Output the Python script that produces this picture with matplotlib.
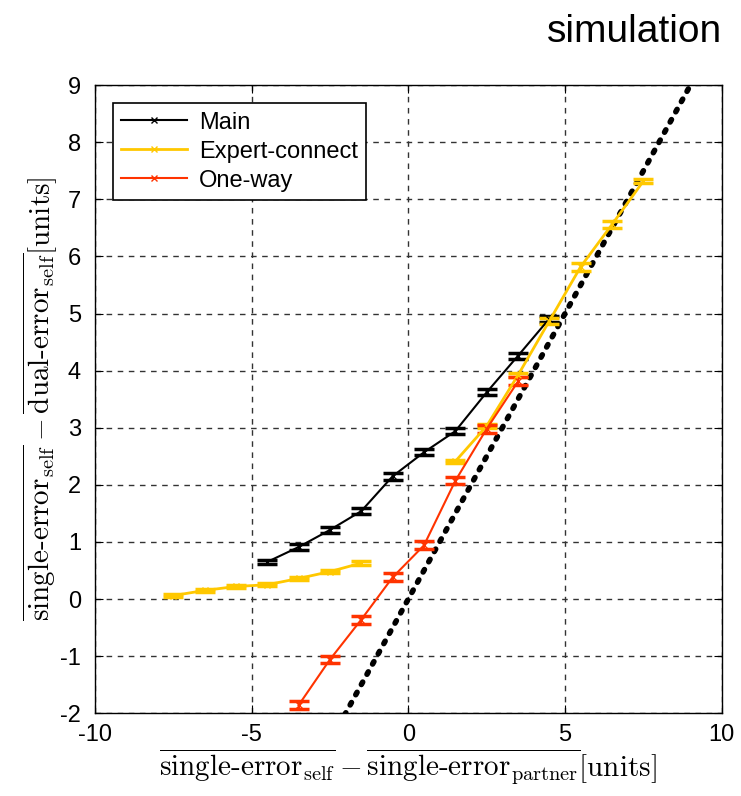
import matplotlib.pyplot as plt
from matplotlib.lines import Line2D
import numpy as np

plt.rcParams['mathtext.fontset'] = 'cm'
plt.rcParams['font.family'] = ['Liberation Sans', 'DejaVu Sans']
plt.rcParams['axes.unicode_minus'] = False

# Main
main_x = [-4.5, -3.5, -2.5, -1.5, -0.5, 0.5, 1.5, 2.5, 3.5, 4.5]
main_y = [0.65, 0.91, 1.21, 1.54, 2.15, 2.57, 2.94, 3.62, 4.26, 4.91]
main_err = [0.03, 0.05, 0.05, 0.05, 0.06, 0.05, 0.05, 0.05, 0.05, 0.05]

# Expert-connect (two separate segments)
exp_lo_x = [-7.5, -6.5, -5.5, -4.5, -3.5, -2.5, -1.5]
exp_lo_y = [0.06, 0.15, 0.22, 0.25, 0.36, 0.48, 0.63]
exp_lo_err = [0.02, 0.03, 0.03, 0.03, 0.03, 0.03, 0.04]
exp_hi_x = [1.5, 2.5, 3.5, 4.5, 5.5, 6.5, 7.5]
exp_hi_y = [2.41, 3.03, 3.92, 4.87, 5.82, 6.56, 7.32]
exp_hi_err = [0.03, 0.04, 0.04, 0.05, 0.07, 0.06, 0.04]

# One-way
one_x = [-3.5, -2.5, -1.5, -0.5, 0.5, 1.5, 2.5, 3.5]
one_y = [-1.86, -1.06, -0.36, 0.38, 0.94, 2.07, 2.98, 3.81]
one_err = [0.07, 0.06, 0.07, 0.07, 0.07, 0.06, 0.07, 0.07]

# identity reference
ref_x = [-10, 10]
ref_y = [-10, 10]

black = 'black'
yellow = '#FFC800'
red = '#FF3300'

fig = plt.figure(figsize=(7.41, 7.96), dpi=100)
ax = fig.add_axes([0.128, 0.104, 0.846, 0.789])

ax.plot(ref_x, ref_y, ls=(0, (0.5, 1.6)), color='black', lw=4, dash_capstyle='round', zorder=2)

ekw = dict(capsize=7, elinewidth=1.5, capthick=2.5, marker='x', markersize=5, zorder=3)
ax.errorbar(main_x, main_y, yerr=main_err, color=black, lw=1.5, **ekw)
ax.errorbar(exp_lo_x, exp_lo_y, yerr=exp_lo_err, color=yellow, lw=2, **ekw)
ax.errorbar(exp_hi_x, exp_hi_y, yerr=exp_hi_err, color=yellow, lw=2, **ekw)
ax.errorbar(one_x, one_y, yerr=one_err, color=red, lw=1.5, **ekw)

ax.set_xlim(-10, 10)
ax.set_ylim(-2, 9)
ax.set_xticks(np.arange(-10, 11, 5))
ax.set_yticks(np.arange(-2, 10, 1))
ax.grid(True, color='#333333', ls=(0, (4, 4)), lw=1)
ax.tick_params(direction='in', top=True, right=True, labelsize=17, length=6)
ax.tick_params(axis='y', pad=10)
ax.tick_params(axis='x', pad=8)
for s in ax.spines.values():
    s.set_linewidth(1)

ax.set_xlabel(r'$\overline{\mathrm{single\text{-}error}_{\mathrm{self}}} - '
              r'\overline{\mathrm{single\text{-}error}_{\mathrm{partner}}}[\mathrm{units}]$',
              fontsize=21, labelpad=0)
ax.set_ylabel(r'$\overline{\mathrm{single\text{-}error}_{\mathrm{self}}} - '
              r'\overline{\mathrm{dual\text{-}error}_{\mathrm{self}}}[\mathrm{units}]$',
              fontsize=21, labelpad=0)

handles = [Line2D([], [], color=black, lw=1.5, marker='x', markersize=4),
           Line2D([], [], color=yellow, lw=2, marker='x', markersize=4),
           Line2D([], [], color=red, lw=1.5, marker='x', markersize=4)]
leg = ax.legend(handles, ['Main', 'Expert-connect', 'One-way'],
                loc='upper left', fontsize=17, frameon=True, fancybox=False,
                edgecolor='black', framealpha=1, handlelength=2.8, borderpad=0.35,
                labelspacing=0.3, handletextpad=0.5, bbox_to_anchor=(0.01, 0.99))
leg.get_frame().set_linewidth(1.2)

fig.text(0.975, 0.96, 'simulation', ha='right', va='center', fontsize=28)

fig.savefig('out.png', dpi=100)
